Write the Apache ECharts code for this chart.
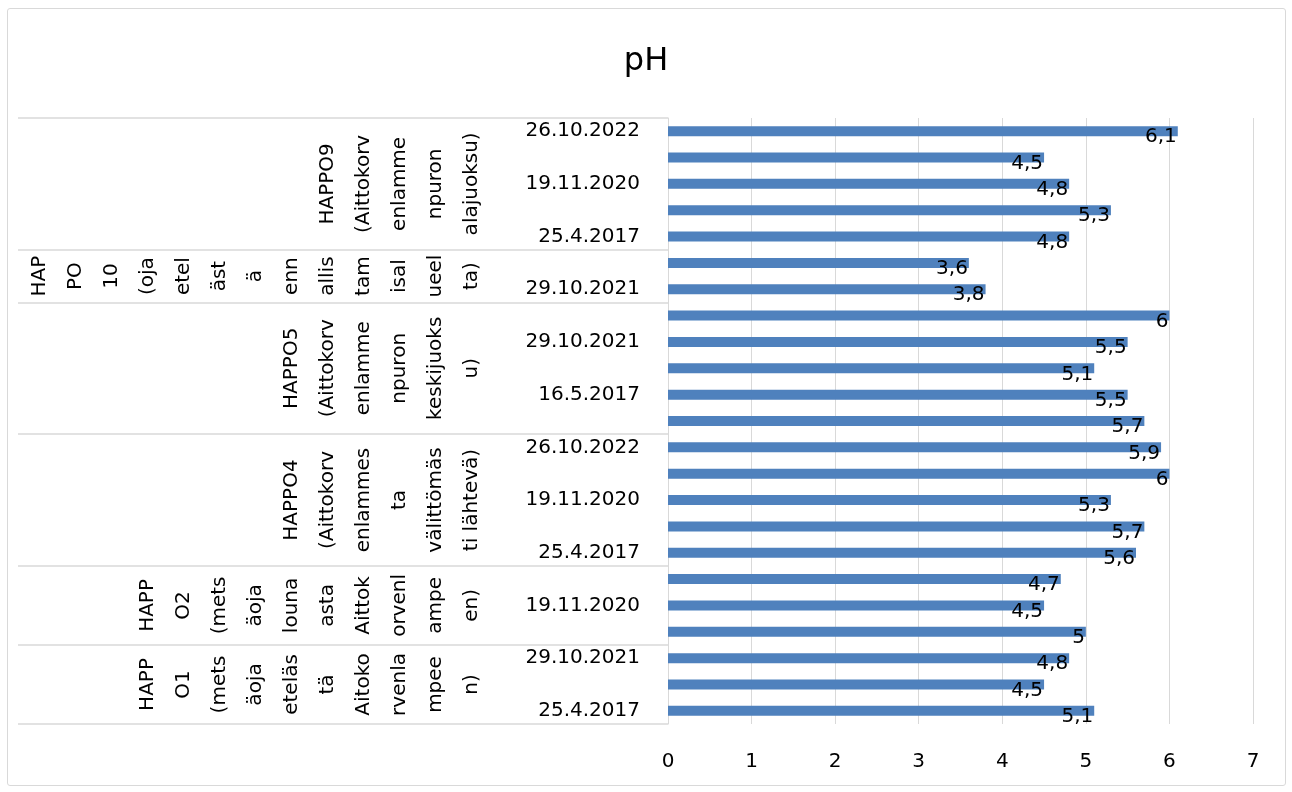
<!DOCTYPE html>
<html>
<head>
<meta charset="utf-8">
<script src="https://cdn.jsdelivr.net/npm/echarts@6/dist/echarts.min.js"></script>
<style>
  html, body { margin: 0; padding: 0; background: #fff; }
  #chart { width: 1292px; height: 792px; }
  #frame { position: absolute; left: 7px; top: 8px; width: 1277px; height: 776px;
           border: 1px solid #d9d9d9; border-radius: 3px; pointer-events: none; }
</style>
</head>
<body>
<div id="chart"></div>
<div id="frame"></div>
<script>
const FONT = 'DejaVu Sans'

// bars listed top to bottom
const dates = [
  '26.10.2022', '29.10.2021', '19.11.2020', '16.5.2017', '25.4.2017',
  '26.10.2022', '29.10.2021',
  '26.10.2022', '29.10.2021', '19.11.2020', '16.5.2017', '25.4.2017',
  '26.10.2022', '29.10.2021', '19.11.2020', '16.5.2017', '25.4.2017',
  '29.10.2021', '19.11.2020', '16.5.2017',
  '29.10.2021', '19.11.2020', '25.4.2017'
]
const phValues = [
  6.1, 4.5, 4.8, 5.3, 4.8,
  3.6, 3.8,
  6, 5.5, 5.1, 5.5, 5.7,
  5.9, 6, 5.3, 5.7, 5.6,
  4.7, 4.5, 5,
  4.8, 4.5, 5.1
]
// sampling points, wrapped the same way as in the original chart
const groupLines = [
  ['HAPPO9', '(Aittokorv', 'enlamme', 'npuron', 'alajuoksu)'],
  ['HAP', 'PO', '10', '(oja', 'etel', 'äst', 'ä', 'enn', 'allis', 'tam', 'isal', 'ueel', 'ta)'],
  ['HAPPO5', '(Aittokorv', 'enlamme', 'npuron', 'keskijuoks', 'u)'],
  ['HAPPO4', '(Aittokorv', 'enlammes', 'ta', 'välittömäs', 'ti lähtevä)'],
  ['HAPP', 'O2', '(mets', 'äoja', 'louna', 'asta', 'Aittok', 'orvenl', 'ampe', 'en)'],
  ['HAPP', 'O1', '(mets', 'äoja', 'eteläs', 'tä', 'Aitoko', 'rvenla', 'mpee', 'n)']
]
const groupSizes = [5, 2, 5, 5, 3, 3]
const xTicks = [0, 1, 2, 3, 4, 5, 6, 7]

// group axis works in half-bar steps: boundaries and centres fall on its ticks
const halfSlots = []
for (let i = 0; i <= dates.length * 2; i++) halfSlots.push('s' + i)
const boundaries = [0]
const centres = {}
let start = 0
groupSizes.forEach((n, g) => {
  centres[start * 2 + n] = groupLines[g].join('\n')
  start += n
  boundaries.push(start * 2)
})

const chart = echarts.init(document.getElementById('chart'))

chart.setOption({
  animation: false,
  textStyle: { fontFamily: FONT },
  title: {
    text: 'pH',
    left: 'center',
    top: 41,
    textStyle: { fontFamily: FONT, fontSize: 32, fontWeight: 'normal', color: '#000' }
  },
  grid: { left: 668, right: 39, top: 118, bottom: 68, outerBoundsMode: 'none' },
  xAxis: {
    type: 'value',
    min: xTicks[0],
    max: xTicks[xTicks.length - 1],
    interval: 1,
    axisLine: { show: false },
    axisTick: { show: false },
    axisLabel: { margin: 28, fontSize: 20, color: '#000', fontFamily: FONT },
    splitLine: { lineStyle: { color: '#d9d9d9', width: 1 } }
  },
  yAxis: [
    {
      type: 'category',
      data: dates,
      inverse: true,
      position: 'left',
      axisLine: { show: false },
      axisTick: { show: false },
      axisLabel: { interval: 1, margin: 28, fontSize: 20, color: '#000', fontFamily: FONT }
    },
    {
      type: 'category',
      data: halfSlots,
      inverse: true,
      boundaryGap: false,
      position: 'left',
      offset: 0,
      axisLine: { show: true, lineStyle: { color: '#d9d9d9' } },
      axisTick: {
        show: true,
        length: 650,
        interval: (idx) => boundaries.indexOf(idx) >= 0,
        lineStyle: { color: '#d9d9d9', width: 1.5 }
      },
      axisLabel: {
        rotate: 90,
        margin: 178,
        interval: (idx) => centres[idx] !== undefined,
        formatter: (val, idx) => centres[idx] || '',
        fontSize: 20,
        lineHeight: 36,
        color: '#000',
        fontFamily: FONT
      }
    }
  ],
  series: [
    {
      type: 'bar',
      yAxisIndex: 0,
      data: phValues,
      barWidth: 10,
      itemStyle: { color: '#4f81bd' },
      label: {
        show: true,
        position: 'insideRight',
        distance: 1,
        offset: [0, 6],
        fontSize: 20,
        color: '#000',
        fontFamily: FONT,
        formatter: (p) => String(p.value).replace('.', ',')
      }
    }
  ]
})

window.addEventListener('resize', () => chart.resize())
</script>
</body>
</html>
